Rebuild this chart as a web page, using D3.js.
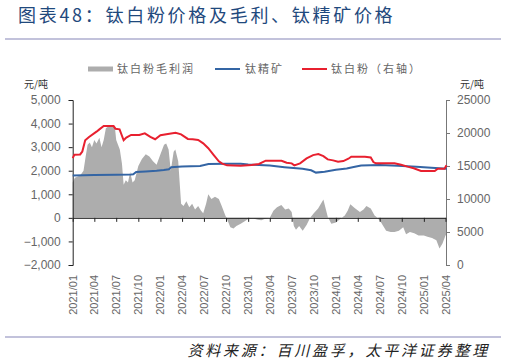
<!DOCTYPE html>
<html><head><meta charset="utf-8">
<script src="https://cdn.jsdelivr.net/npm/d3@7"></script>
<style>
body{margin:0;background:#fff;}
svg{display:block;}
</style></head>
<body><svg id="c" width="507" height="363"></svg>
<script>
const title = "图表48：钛白粉价格及毛利、钛精矿价格";
const source = "资料来源：百川盈孚，太平洋证券整理";
const seriesNames = ["钛白粉毛利润", "钛精矿", "钛白粉（右轴）"];
const unitLabel = "元/吨";
const xTickLabels = ["2021/01","2021/04","2021/07","2021/10","2022/01","2022/04","2022/07","2022/10","2023/01","2023/04","2023/07","2023/10","2024/01","2024/04","2024/07","2024/10","2025/01","2025/04"];
const leftTicks = [-2000,-1000,0,1000,2000,3000,4000,5000];
const rightTicks = [0,5000,10000,15000,20000,25000];

// 钛白粉毛利润 (left axis)
const profitDates = ["2021-01-01","2021-01-10","2021-01-22","2021-02-01","2021-02-15","2021-02-24","2021-03-04","2021-03-13","2021-03-22","2021-04-01","2021-04-10","2021-04-22","2021-05-01","2021-05-10","2021-05-19","2021-06-01","2021-06-16","2021-06-25","2021-07-01","2021-07-16","2021-07-25","2021-08-01","2021-08-10","2021-08-19","2021-08-28","2021-09-07","2021-09-16","2021-10-01","2021-10-16","2021-11-01","2021-11-16","2021-12-01","2021-12-16","2022-01-01","2022-01-16","2022-01-25","2022-02-04","2022-02-13","2022-02-25","2022-03-04","2022-03-16","2022-03-28","2022-04-07","2022-04-19","2022-05-01","2022-05-13","2022-05-25","2022-06-07","2022-06-19","2022-06-28","2022-07-10","2022-07-19","2022-08-01","2022-08-16","2022-09-01","2022-09-13","2022-09-28","2022-10-07","2022-10-19","2022-11-01","2022-11-13","2022-12-01","2022-12-16","2023-01-01","2023-01-22","2023-02-10","2023-02-25","2023-03-10","2023-04-01","2023-04-16","2023-05-01","2023-05-19","2023-06-04","2023-06-19","2023-07-01","2023-07-10","2023-07-19","2023-08-01","2023-08-16","2023-09-01","2023-09-16","2023-10-01","2023-10-19","2023-11-10","2023-11-28","2023-12-13","2024-01-01","2024-01-19","2024-02-07","2024-02-19","2024-03-01","2024-03-19","2024-04-10","2024-04-25","2024-05-07","2024-05-25","2024-06-10","2024-06-22","2024-07-07","2024-07-28","2024-08-16","2024-09-01","2024-09-19","2024-10-07","2024-10-19","2024-11-04","2024-11-22","2024-12-10","2025-01-01","2025-01-16","2025-02-04","2025-02-22","2025-03-07","2025-03-19","2025-04-01","2025-04-07"];
const profitValues = [1500,1700,1750,1800,2000,2600,3100,3200,3000,3300,3150,3400,3000,3300,3800,3900,3850,3900,3300,2900,2300,1400,1600,1500,1950,1500,1600,2200,2500,2700,2600,2400,2250,2700,3100,3150,2900,2000,2800,2900,2400,600,500,700,450,600,350,500,300,200,600,1000,800,900,800,500,100,-100,-400,-450,-350,-250,-150,-50,-30,-80,-100,-50,0,300,450,550,350,400,250,-350,-500,-350,-550,-300,0,200,400,780,50,-250,-200,-50,100,300,580,420,250,350,500,400,100,0,-200,-550,-600,-600,-550,-400,-700,-600,-650,-750,-750,-800,-850,-950,-1300,-1100,-750,-700];

// 钛精矿 (left axis)
const oreDates = ["2021-01-01","2021-04-01","2021-07-01","2021-09-01","2021-09-10","2021-09-22","2021-11-01","2021-12-16","2022-01-15","2022-02-05","2022-02-15","2022-04-01","2022-06-15","2022-07-20","2022-10-01","2022-12-01","2023-01-01","2023-04-01","2023-06-01","2023-08-15","2023-09-20","2023-10-10","2023-11-15","2024-01-01","2024-02-15","2024-03-15","2024-04-15","2024-07-01","2024-09-15","2024-12-01","2025-02-01","2025-04-07"];
const oreValues = [1800,1820,1830,1840,1850,1950,1970,2000,2030,2060,2150,2180,2200,2280,2300,2300,2260,2220,2150,2080,2020,1920,1960,2040,2090,2160,2220,2240,2210,2170,2130,2080];

// 钛白粉价格 (right axis)
const tio2Dates = ["2021-01-01","2021-01-08","2021-02-01","2021-02-10","2021-02-22","2021-03-10","2021-04-10","2021-04-22","2021-05-10","2021-06-20","2021-06-28","2021-07-15","2021-08-01","2021-08-12","2021-09-01","2021-10-05","2021-10-28","2021-11-20","2021-12-10","2022-01-01","2022-02-01","2022-03-05","2022-03-28","2022-04-25","2022-05-15","2022-06-07","2022-06-28","2022-07-19","2022-08-10","2022-09-01","2022-09-15","2022-10-05","2022-12-01","2023-01-15","2023-02-15","2023-03-15","2023-05-20","2023-06-10","2023-07-01","2023-07-12","2023-08-05","2023-09-01","2023-09-28","2023-10-20","2023-11-10","2023-11-28","2023-12-20","2024-01-10","2024-02-01","2024-02-22","2024-03-05","2024-05-01","2024-05-25","2024-06-05","2024-06-15","2024-09-01","2024-09-28","2024-10-25","2024-11-20","2024-12-20","2025-02-15","2025-02-28","2025-03-28","2025-04-05"];
const tio2Values = [16200,16700,16750,17200,18900,19400,20200,20550,21050,21050,20650,20550,18900,19300,19700,19700,19950,19400,19050,19650,19850,20050,19800,19100,19050,18950,18440,17700,16700,15700,15350,15100,15050,15150,15300,15800,15800,15500,15400,15100,15400,16150,16650,16800,16500,16000,15850,15650,15750,16100,16400,16400,16300,15600,15400,15400,15200,14900,14650,14250,14250,14600,14600,15100];

const parse = d3.timeParse("%Y-%m-%d");
const svg = d3.select("#c");
const cjk = "'Noto Sans CJK SC','Noto Sans',sans-serif";
const num = "'Liberation Sans',Arial,sans-serif";

const x = d3.scaleTime().domain([parse("2021-01-01"), parse("2025-04-01")]).range([72.7, 445.5]);
const yL = d3.scaleLinear().domain([-2000, 5000]).range([265, 100]);
const yR = d3.scaleLinear().domain([0, 25000]).range([265, 100]);

// title & rules
svg.append("text").attr("x", 18).attr("y", 22).text(title)
  .attr("font-family", cjk).attr("font-size", 18).attr("letter-spacing", 2.7).attr("fill", "#1F497D");
svg.append("line").attr("x1", 5).attr("x2", 501).attr("y1", 39).attr("y2", 39).attr("stroke", "#8585B8").attr("stroke-width", 1.2);
svg.append("line").attr("x1", 5).attr("x2", 501).attr("y1", 337).attr("y2", 337).attr("stroke", "#8585B8").attr("stroke-width", 1.2);
svg.append("text").attr("x", 490).attr("y", 356).attr("text-anchor", "end").text(source)
  .attr("font-family", cjk).attr("font-size", 15).attr("font-style", "italic").attr("letter-spacing", 2.8).attr("fill", "#222");

// legend
const lg = svg.append("g").attr("font-family", cjk).attr("font-size", 11).attr("fill", "#666");
lg.append("rect").attr("x", 88).attr("y", 66.5).attr("width", 25).attr("height", 5).attr("fill", "#ADADAD");
lg.append("text").attr("x", 117).attr("y", 73).text(seriesNames[0]).attr("letter-spacing", 2);
lg.append("line").attr("x1", 215).attr("x2", 240).attr("y1", 69).attr("y2", 69).attr("stroke", "#3465A4").attr("stroke-width", 2);
lg.append("text").attr("x", 245).attr("y", 73).text(seriesNames[1]).attr("letter-spacing", 2);
lg.append("line").attr("x1", 302).attr("x2", 327).attr("y1", 69).attr("y2", 69).attr("stroke", "#E8202F").attr("stroke-width", 2);
lg.append("text").attr("x", 331).attr("y", 73).text(seriesNames[2]).attr("letter-spacing", 2);

svg.append("text").attr("x", 24).attr("y", 88).text(unitLabel).attr("font-family", cjk).attr("font-size", 10).attr("fill", "#333");
svg.append("text").attr("x", 460).attr("y", 88).text(unitLabel).attr("font-family", cjk).attr("font-size", 10).attr("fill", "#333");

// area
const profit = profitDates.map((d, i) => ({d: parse(d), v: profitValues[i]}));
svg.append("path").datum(profit)
  .attr("d", d3.area().x(p => x(p.d)).y0(yL(0)).y1(p => yL(p.v)))
  .attr("fill", "#ADADAD");

// axes
const gL = svg.append("g").attr("transform", "translate(72.7,0)")
  .call(d3.axisLeft(yL).tickValues(leftTicks).tickSize(4).tickFormat(d3.format(",")));
gL.selectAll("text").attr("font-family", num).attr("font-size", 12).attr("fill", "#666").attr("x", -12);
gL.selectAll("path,line").attr("stroke", "#222");

const gR = svg.append("g").attr("transform", "translate(446,0)")
  .call(d3.axisRight(yR).tickValues(rightTicks).tickSize(4).tickFormat(d3.format("d")));
gR.selectAll("text").attr("font-family", num).attr("font-size", 12).attr("fill", "#666").attr("x", 11);
gR.selectAll("path,line").attr("stroke", "#777");

const tickDates = xTickLabels.map(s => parse(s.replace("/", "-") + "-01"));
const gX = svg.append("g").attr("transform", `translate(0,${yL(0)})`)
  .call(d3.axisBottom(x).tickValues(tickDates).tickSize(4).tickSizeOuter(0).tickFormat(""));
gX.selectAll("path,line").attr("stroke", "#222");

svg.append("g").selectAll("text").data(xTickLabels).join("text")
  .attr("transform", (t, i) => `translate(${x(tickDates[i]) + 4},275) rotate(-90)`)
  .attr("text-anchor", "end").text(t => t)
  .attr("font-family", num).attr("font-size", 11).attr("fill", "#666");

// lines
const ore = oreDates.map((d, i) => ({d: parse(d), v: oreValues[i]}));
svg.append("path").datum(ore)
  .attr("d", d3.line().x(p => x(p.d)).y(p => yL(p.v)))
  .attr("fill", "none").attr("stroke", "#3465A4").attr("stroke-width", 2);

const tio2 = tio2Dates.map((d, i) => ({d: parse(d), v: tio2Values[i]}));
svg.append("path").datum(tio2)
  .attr("d", d3.line().x(p => x(p.d)).y(p => yR(p.v)))
  .attr("fill", "none").attr("stroke", "#E8202F").attr("stroke-width", 2);
</script>
</body></html>
